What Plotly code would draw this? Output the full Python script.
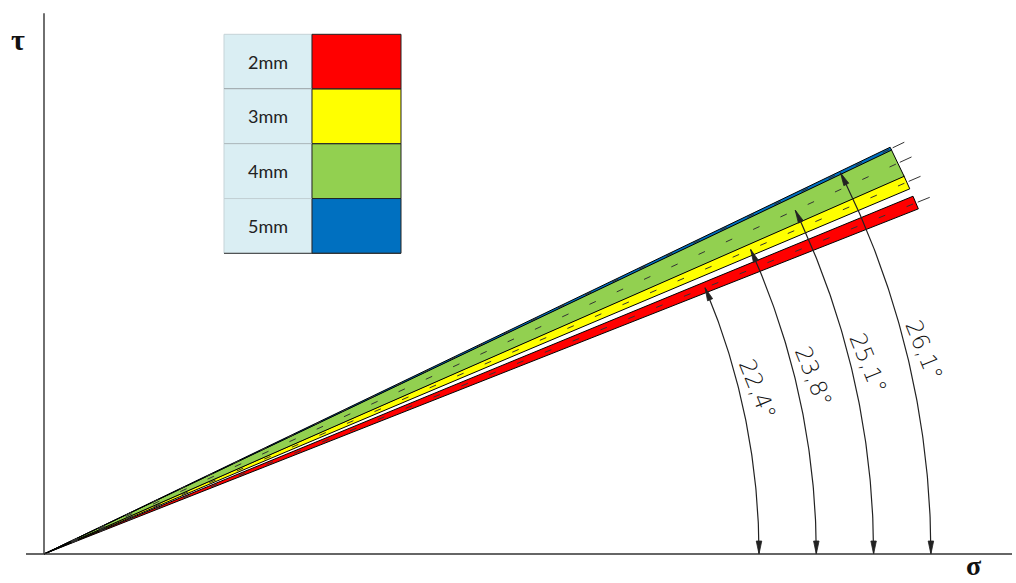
import numpy as np
import plotly.graph_objects as go

# Specimen thickness and the friction angle measured for each one
thickness = ["2mm", "3mm", "4mm", "5mm"]
band_colors = ["#FF0000", "#FFFF00", "#92D050", "#0070C0"]
friction_angle = [22.4, 23.8, 25.1, 26.1]          # degrees
band_low = [22.0, 23.35, 24.2, 26.0]               # lower edge of each scatter band, degrees
band_high = [22.85, 24.25, 26.05, 26.2]            # upper edge of each scatter band, degrees
angle_labels = ["22,4°", "23,8°", "25,1°", "26,1°"]

W, H = 1016, 583
ORIGIN_PX = (44, 554)          # pixel position of the σ–τ origin
K = 0.977                      # τ scale relative to σ scale
R_BAND = 943                   # length of the failure envelopes
ARC_R0, ARC_GAP = 715, 57.3    # radii of the angle dimension arcs
INK = "#222222"


def to_data(px, py):
    """pixel offsets from the origin (y up) -> data coordinates"""
    return np.asarray(px, float), np.asarray(py, float) / K


def ray(angle_deg, r):
    a = np.radians(angle_deg)
    return r * np.cos(a), r * np.sin(a)


def arrowhead(tip, direction, length=13.0, width=5.5):
    tx, ty = tip[0], tip[1] * K
    d = np.asarray(direction, float)
    d = d / np.hypot(*d)
    bx, by = tx - d[0] * length, ty - d[1] * length
    nx, ny = -d[1], d[0]
    xs = [tx, bx + nx * width / 2, bx - nx * width / 2, tx]
    ys = [ty, by + ny * width / 2, by - ny * width / 2, ty]
    return to_data(xs, ys)


fig = go.Figure()

# axes
x_min, x_max = -ORIGIN_PX[0], W - ORIGIN_PX[0]
y_min, y_max = -(H - ORIGIN_PX[1]) / K, ORIGIN_PX[1] / K
fig.add_shape(type="line", x0=0, y0=0, x1=0, y1=540.7 / K,
              line=dict(color="#333333", width=1.4))
fig.add_shape(type="line", x0=-18, y0=0, x1=968, y1=0,
              line=dict(color="#333333", width=1.4))

# failure envelope bands (wedges from the origin)
for lo, hi, col in zip(band_low, band_high, band_colors):
    x1, y1 = ray(lo, R_BAND)
    x2, y2 = ray(hi, R_BAND)
    fig.add_trace(go.Scatter(
        x=[0, x1, x2, 0], y=[0, y1, y2, 0], mode="lines", fill="toself",
        fillcolor=col, line=dict(color="black", width=1),
        hoverinfo="skip", showlegend=False))

# centre lines of each band, dashed, plus the short extension past the end
for phi in friction_angle:
    xa, ya = ray(phi, 30)
    xb, yb = ray(phi, R_BAND - 2)
    fig.add_trace(go.Scatter(
        x=[xa, xb], y=[ya, yb], mode="lines",
        line=dict(color="#333333", width=1, dash="7px,23px"),
        hoverinfo="skip", showlegend=False))
    xa, ya = ray(phi, R_BAND + 2)
    xb, yb = ray(phi, R_BAND + 15)
    fig.add_trace(go.Scatter(
        x=[xa, xb], y=[ya, yb], mode="lines",
        line=dict(color="#333333", width=1),
        hoverinfo="skip", showlegend=False))

# angle dimension arcs with arrowheads and rotated labels
for i, (phi, lab) in enumerate(zip(friction_angle, angle_labels)):
    r = ARC_R0 + ARC_GAP * i
    t = np.radians(np.linspace(0, phi, 120))
    fig.add_trace(go.Scatter(
        x=r * np.cos(t), y=r * np.sin(t), mode="lines",
        line=dict(color=INK, width=1.2), hoverinfo="skip", showlegend=False))
    # bottom arrow on the σ axis
    hx, hy = arrowhead((r, 0.0), (0.0, -1.0))
    fig.add_trace(go.Scatter(x=hx, y=hy, mode="lines", fill="toself",
                             fillcolor=INK, line=dict(color=INK, width=0.8),
                             hoverinfo="skip", showlegend=False))
    # top arrow on the band centre line
    a = np.radians(phi)
    tip = (r * np.cos(a), r * np.sin(a))
    hx, hy = arrowhead(tip, (-np.sin(a), K * np.cos(a)))
    fig.add_trace(go.Scatter(x=hx, y=hy, mode="lines", fill="toself",
                             fillcolor=INK, line=dict(color=INK, width=0.8),
                             hoverinfo="skip", showlegend=False))
    # label just outside the arc
    th = np.radians(13.0)
    lx, ly = to_data((r + 17) * np.cos(th), (r + 17) * np.sin(th))
    fig.add_annotation(x=float(lx), y=float(ly), text=lab, showarrow=False,
                       textangle=68, xanchor="center", yanchor="middle",
                       font=dict(family="DejaVu Sans", size=23, color="#111111", weight=200))

# axis symbols
fig.add_annotation(x=17.5 / W, y=1 - 40 / H, xref="paper", yref="paper",
                   text="<b>τ</b>", showarrow=False,
                   xanchor="center", yanchor="middle",
                   font=dict(family="Liberation Serif", size=30, color="#111111"))
fig.add_annotation(x=974 / W, y=1 - 582 / H, xref="paper", yref="paper",
                   text="<b>σ</b>", showarrow=False,
                   xanchor="center", yanchor="bottom", borderpad=0,
                   font=dict(family="Liberation Serif", size=28, color="#111111"))

# thickness / colour key table
TX0, TXM, TX1 = 224, 312, 401
TY0, ROW_H = 34.3, 54.75


def px2paper_x(v):
    return v / W


def px2paper_y(v):
    return 1 - v / H


for i, (name, col) in enumerate(zip(thickness, band_colors)):
    top = TY0 + ROW_H * i
    bot = top + ROW_H
    fig.add_shape(type="rect", xref="paper", yref="paper",
                  x0=px2paper_x(TX0), x1=px2paper_x(TXM),
                  y0=px2paper_y(bot), y1=px2paper_y(top),
                  fillcolor="#DAEEF3", line=dict(color="#C5D3D8", width=1))
    fig.add_shape(type="rect", xref="paper", yref="paper",
                  x0=px2paper_x(TXM), x1=px2paper_x(TX1),
                  y0=px2paper_y(bot), y1=px2paper_y(top),
                  fillcolor=col, line=dict(color="#222222", width=1))
    fig.add_shape(type="line", xref="paper", yref="paper",
                  x0=px2paper_x(TX0), x1=px2paper_x(TX1),
                  y0=px2paper_y(bot), y1=px2paper_y(bot),
                  line=dict(color="#333333", width=1))
    fig.add_annotation(x=px2paper_x((TX0 + TXM) / 2), y=px2paper_y((top + bot) / 2),
                       xref="paper", yref="paper", text=name, showarrow=False,
                       xanchor="center", yanchor="middle",
                       font=dict(family="Lato", size=18, color="#222222"))

fig.update_layout(
    width=W, height=H, margin=dict(l=0, r=0, t=0, b=0),
    paper_bgcolor="white", plot_bgcolor="white",
    xaxis=dict(range=[x_min, x_max], visible=False, fixedrange=True),
    yaxis=dict(range=[y_min, y_max], visible=False, fixedrange=True),
)

fig.write_html("out.html")
